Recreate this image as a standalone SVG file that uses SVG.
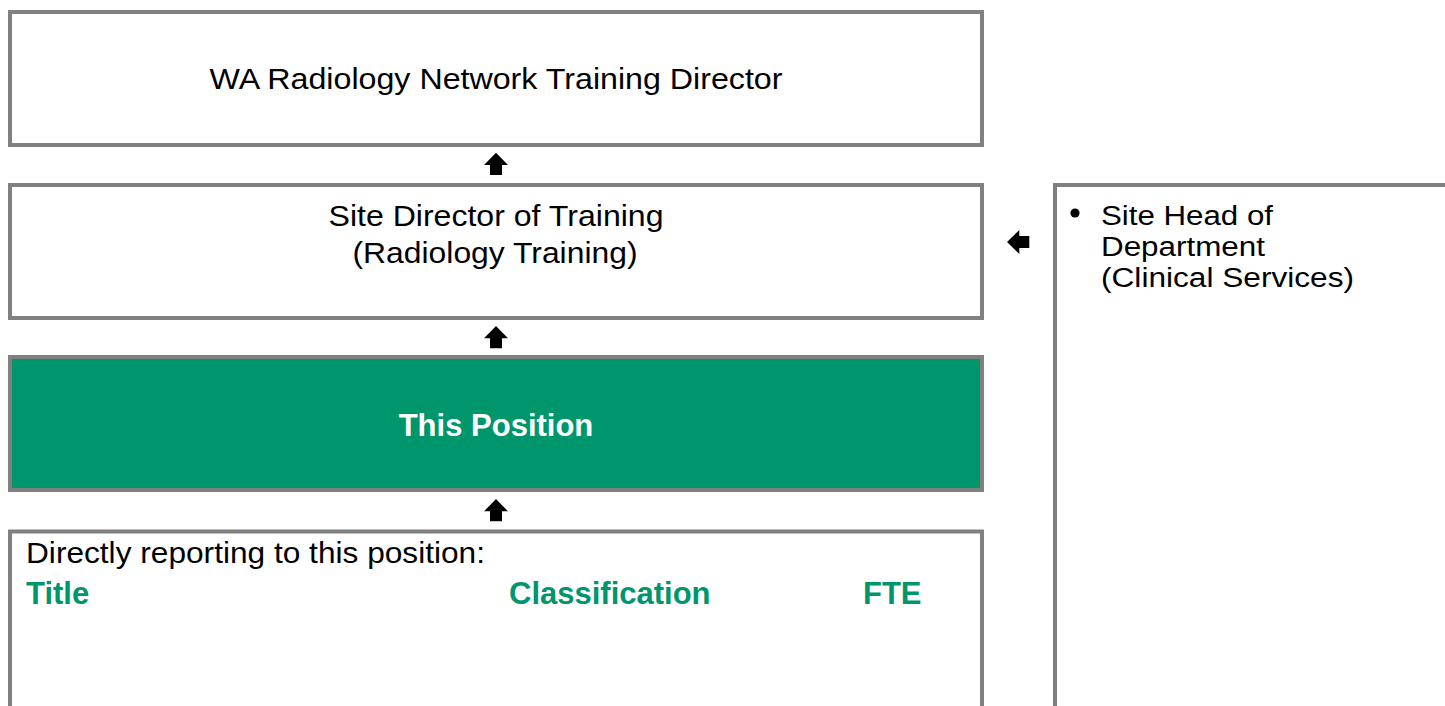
<svg xmlns="http://www.w3.org/2000/svg" xmlns:xlink="http://www.w3.org/1999/xlink" width="1445" height="706" viewBox="0 0 1445 706">
<style>
.box{fill:#ffffff;stroke:#808080;stroke-width:4}
.green{fill:#00966C;stroke:#808080;stroke-width:4}
.t{font-family:"Liberation Sans",Arial,sans-serif;font-size:30px;fill:#000000}
.s{font-size:27px}
.b{font-family:"Liberation Sans",Arial,sans-serif;font-size:31px;font-weight:bold}
.w{fill:#ffffff}
.g{fill:#00966C}
.arr{fill:#000000}
</style>
<defs>
<path id="up" d="M0,0 L12,12.3 L6,12.3 L6,22.3 L-6,22.3 L-6,12.3 L-12,12.3 Z"/>
</defs>
<g id="node-network-director">
<rect class="box" x="10" y="12" width="972" height="133"/>
<text class="t" x="496" y="89" text-anchor="middle" textLength="573" lengthAdjust="spacingAndGlyphs">WA Radiology Network Training Director</text>
</g>
<g id="node-site-director">
<rect class="box" x="10" y="185" width="972" height="133"/>
<text class="t" x="496" y="226" text-anchor="middle" textLength="335" lengthAdjust="spacingAndGlyphs">Site Director of Training</text>
<text class="t" x="495" y="263" text-anchor="middle" textLength="285" lengthAdjust="spacingAndGlyphs">(Radiology Training)</text>
</g>
<g id="node-this-position">
<rect class="green" x="10" y="357" width="972" height="133"/>
<text class="b w" x="496" y="436" text-anchor="middle">This Position</text>
</g>
<g id="node-direct-reports">
<rect class="box" x="10" y="531.5" width="972" height="200"/>
<text class="t" x="26" y="563" textLength="459" lengthAdjust="spacingAndGlyphs">Directly reporting to this position:</text>
<text class="b g" x="26" y="604">Title</text>
<text class="b g" x="509" y="604">Classification</text>
<text class="b g" x="863" y="604">FTE</text>
</g>
<g id="node-head-of-department">
<rect class="box" x="1055" y="185" width="420" height="560"/>
<circle cx="1075" cy="213" r="4.6" fill="#000000"/>
<text class="t s" x="1101" y="224.5" textLength="172" lengthAdjust="spacingAndGlyphs">Site Head of</text>
<text class="t s" x="1101" y="255.5" textLength="164" lengthAdjust="spacingAndGlyphs">Department</text>
<text class="t s" x="1101" y="286.5" textLength="253" lengthAdjust="spacingAndGlyphs">(Clinical Services)</text>
</g>
<g id="connectors">
<use xlink:href="#up" class="arr" transform="translate(496,152.7)"/>
<use xlink:href="#up" class="arr" transform="translate(496,326)"/>
<use xlink:href="#up" class="arr" transform="translate(496,499)"/>
<use xlink:href="#up" class="arr" transform="translate(1007,242) rotate(-90)"/>
</g>
</svg>
